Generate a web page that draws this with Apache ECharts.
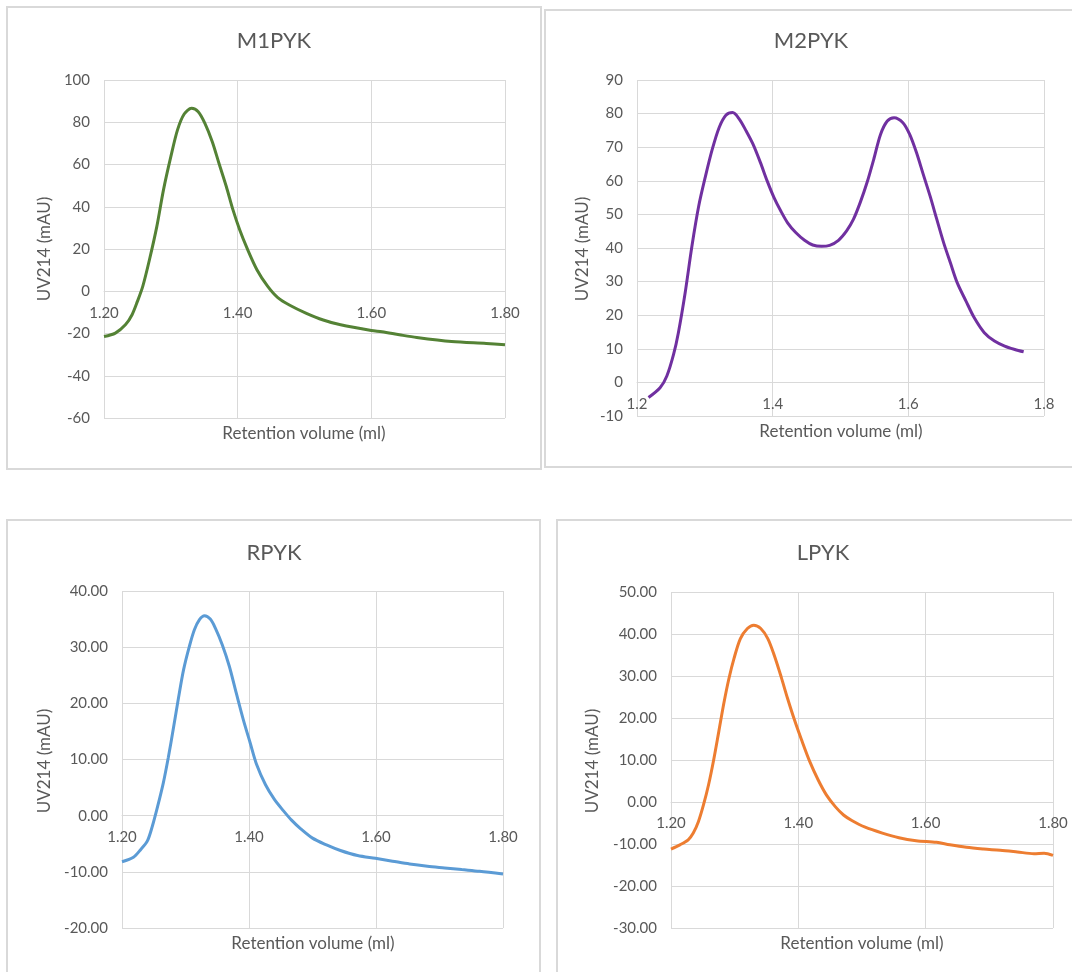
<!DOCTYPE html>
<html>
<head>
<meta charset="utf-8">
<title>PYK size-exclusion profiles</title>
<script src="https://cdn.jsdelivr.net/npm/echarts@6/dist/echarts.min.js"></script>
<style>
  html, body { margin: 0; padding: 0; background: #ffffff; }
  #chart { width: 1072px; height: 972px; }
</style>
</head>
<body>
<div id="chart"></div>
<script>
// ---- Data: retention volume (ml) and UV214 absorbance (mAU) per isoform ----
const m1Volume = [1.200, 1.217, 1.232, 1.242, 1.250, 1.258, 1.268, 1.279, 1.289, 1.300, 1.310, 1.320, 1.331, 1.341, 1.351, 1.362, 1.372, 1.383, 1.393, 1.403, 1.414, 1.429, 1.445, 1.460, 1.478, 1.502, 1.528, 1.554, 1.600, 1.616, 1.642, 1.668, 1.720, 1.772, 1.800];
const m1Signal = [-21.4, -19.8, -15.9, -11.1, -4.8, 2.3, 14.9, 30.6, 48.0, 63.7, 76.4, 83.9, 86.6, 85.0, 79.5, 70.8, 60.6, 49.6, 38.5, 29.1, 20.4, 10.1, 2.3, -3.0, -6.6, -10.3, -13.6, -15.9, -18.6, -19.2, -20.6, -21.9, -23.8, -24.7, -25.3];

const m2Volume = [1.217, 1.234, 1.244, 1.254, 1.261, 1.271, 1.281, 1.291, 1.301, 1.311, 1.321, 1.331, 1.341, 1.351, 1.361, 1.371, 1.382, 1.392, 1.402, 1.412, 1.422, 1.434, 1.447, 1.459, 1.472, 1.484, 1.497, 1.509, 1.519, 1.529, 1.539, 1.549, 1.559, 1.569, 1.579, 1.592, 1.602, 1.612, 1.622, 1.632, 1.642, 1.652, 1.662, 1.672, 1.685, 1.697, 1.712, 1.727, 1.742, 1.757, 1.770];
const m2Signal = [-4.5, -1.6, 1.9, 8.4, 14.8, 26.7, 40.6, 52.5, 61.4, 69.4, 75.8, 79.5, 80.3, 78.3, 74.8, 70.9, 65.4, 59.9, 55.0, 51.0, 47.5, 44.6, 42.3, 40.9, 40.5, 40.8, 42.3, 45.1, 48.5, 53.5, 59.4, 66.4, 73.8, 77.8, 78.8, 77.3, 73.8, 68.4, 61.9, 55.5, 48.5, 41.6, 35.6, 29.7, 24.2, 19.3, 14.8, 12.3, 10.8, 9.8, 9.1];

const rVolume = [1.200, 1.218, 1.229, 1.240, 1.248, 1.256, 1.265, 1.273, 1.281, 1.289, 1.297, 1.306, 1.314, 1.322, 1.330, 1.339, 1.347, 1.358, 1.369, 1.380, 1.391, 1.402, 1.412, 1.426, 1.440, 1.454, 1.467, 1.481, 1.500, 1.522, 1.544, 1.571, 1.599, 1.626, 1.653, 1.681, 1.708, 1.735, 1.763, 1.800];
const rSignal = [-8.2, -7.4, -6.1, -4.5, -1.8, 1.6, 5.8, 10.4, 15.6, 21.0, 26.0, 30.1, 33.1, 34.9, 35.6, 35.0, 33.4, 30.4, 26.6, 21.8, 17.1, 12.9, 9.1, 5.5, 2.9, 0.9, -0.8, -2.3, -4.0, -5.2, -6.2, -7.1, -7.6, -8.1, -8.6, -9.0, -9.3, -9.6, -9.9, -10.4];

const lVolume = [1.200, 1.214, 1.227, 1.235, 1.243, 1.251, 1.259, 1.267, 1.275, 1.283, 1.291, 1.299, 1.309, 1.320, 1.330, 1.341, 1.352, 1.362, 1.373, 1.383, 1.394, 1.405, 1.418, 1.431, 1.444, 1.458, 1.471, 1.484, 1.505, 1.532, 1.558, 1.585, 1.617, 1.638, 1.664, 1.691, 1.717, 1.744, 1.770, 1.786, 1.800];
const lSignal = [-11.2, -10.2, -9.0, -7.4, -4.7, -0.7, 4.1, 10.0, 16.7, 23.5, 29.4, 34.2, 38.9, 41.3, 42.1, 41.3, 38.9, 35.0, 29.8, 24.7, 19.5, 14.8, 9.6, 5.3, 1.7, -1.1, -3.1, -4.4, -6.0, -7.4, -8.5, -9.2, -9.6, -10.2, -10.8, -11.2, -11.5, -11.9, -12.3, -12.2, -12.7];

// ---- Text ----
const panelTitles = ['M1PYK', 'M2PYK', 'RPYK', 'LPYK'];
const xAxisTitle = 'Retention volume (ml)';
const yAxisTitle = 'UV214 (mAU)';

// ---- Axis scales: [min, max, interval] and label decimals ----
const xRange = [1.2, 1.8, 0.2];
const yRanges = [[-60, 100, 20], [-10, 90, 10], [-20, 40, 10], [-30, 50, 10]];
const xDecimals = [2, 1, 2, 2];
const yDecimals = [0, 0, 2, 2];

// ---- Layout and styling ----
const FONT = 'Lato, "Open Sans", sans-serif';
const TEXT = '#595959';
const GRIDLINE = '#d9d9d9';
const lineColors = ['#548235', '#7030a0', '#5b9bd5', '#ed7d31'];

const panels = [
  { box: [7, 7, 534, 462],    grid: { left: 104, top: 80,  width: 401, height: 338 }, title: [274, 41],  xTitle: [304, 434], yTitle: [45, 249] },
  { box: [545, 10, 545, 457], grid: { left: 637, top: 80,  width: 407, height: 336 }, title: [811, 41],  xTitle: [841, 432], yTitle: [583, 249] },
  { box: [7, 520, 533, 470],  grid: { left: 122, top: 591, width: 381, height: 337 }, title: [274, 553], xTitle: [313, 944], yTitle: [45, 761] },
  { box: [557, 520, 530, 470], grid: { left: 671, top: 592, width: 382, height: 336 }, title: [823, 553], xTitle: [862, 944], yTitle: [593, 761] }
];

const seriesVolume = [m1Volume, m2Volume, rVolume, lVolume];
const seriesSignal = [m1Signal, m2Signal, rSignal, lSignal];

const grids = [], xAxes = [], yAxes = [], series = [], graphics = [];

panels.forEach((p, i) => {
  const [yMin, yMax, yStep] = yRanges[i];
  grids.push(Object.assign({ containLabel: false, outerBoundsMode: 'none' }, p.grid));

  // the volume axis (and its labels) sits on the zero signal level
  const zeroOffset = -p.grid.height * (0 - yMin) / (yMax - yMin);

  xAxes.push({
    type: 'value', gridIndex: i, position: 'bottom',
    offset: zeroOffset,
    min: xRange[0], max: xRange[1], interval: xRange[2],
    axisLine: { show: true, onZero: false, lineStyle: { color: GRIDLINE, width: 1 } },
    axisTick: { show: false },
    axisLabel: {
      show: true, margin: 14, color: TEXT, fontFamily: FONT, fontSize: 15,
      showMinLabel: true, showMaxLabel: true,
      formatter: v => v.toFixed(xDecimals[i])
    },
    splitLine: { show: true, lineStyle: { color: GRIDLINE, width: 1 } }
  });

  yAxes.push({
    type: 'value', gridIndex: i,
    min: yMin, max: yMax, interval: yStep,
    axisLine: { show: false, onZero: false },
    axisTick: { show: false },
    axisLabel: {
      margin: 14, color: TEXT, fontFamily: FONT, fontSize: 15,
      showMinLabel: true, showMaxLabel: true,
      formatter: v => v.toFixed(yDecimals[i])
    },
    splitLine: { show: true, lineStyle: { color: GRIDLINE, width: 1 } }
  });

  series.push({
    type: 'line', name: panelTitles[i],
    xAxisIndex: i, yAxisIndex: i,
    data: seriesVolume[i].map((v, k) => [v, seriesSignal[i][k]]),
    showSymbol: false, symbol: 'none',
    smooth: 0.3,
    lineStyle: { color: lineColors[i], width: 3 },
    itemStyle: { color: lineColors[i] },
    animation: false
  });

  // chart-area frame
  graphics.push({
    type: 'rect', silent: true, z: -1,
    shape: { x: p.box[0], y: p.box[1], width: p.box[2], height: p.box[3] },
    style: { fill: 'none', stroke: GRIDLINE, lineWidth: 2 }
  });
  // panel title
  graphics.push({
    type: 'text', x: p.title[0], y: p.title[1],
    style: { text: panelTitles[i], fill: TEXT, font: '22px ' + FONT, textAlign: 'center', textVerticalAlign: 'middle' }
  });
  // horizontal axis title
  graphics.push({
    type: 'text', x: p.xTitle[0], y: p.xTitle[1],
    style: { text: xAxisTitle, fill: TEXT, font: '17px ' + FONT, textAlign: 'center', textVerticalAlign: 'middle' }
  });
  // vertical axis title
  graphics.push({
    type: 'text', x: p.yTitle[0], y: p.yTitle[1], rotation: Math.PI / 2,
    style: { text: yAxisTitle, fill: TEXT, font: '17px ' + FONT, textAlign: 'center', textVerticalAlign: 'middle' }
  });
});

const chart = echarts.init(document.getElementById('chart'), null, { renderer: 'canvas' });
chart.setOption({
  backgroundColor: '#ffffff',
  animation: false,
  grid: grids,
  xAxis: xAxes,
  yAxis: yAxes,
  series: series,
  graphic: graphics
});
</script>
</body>
</html>
